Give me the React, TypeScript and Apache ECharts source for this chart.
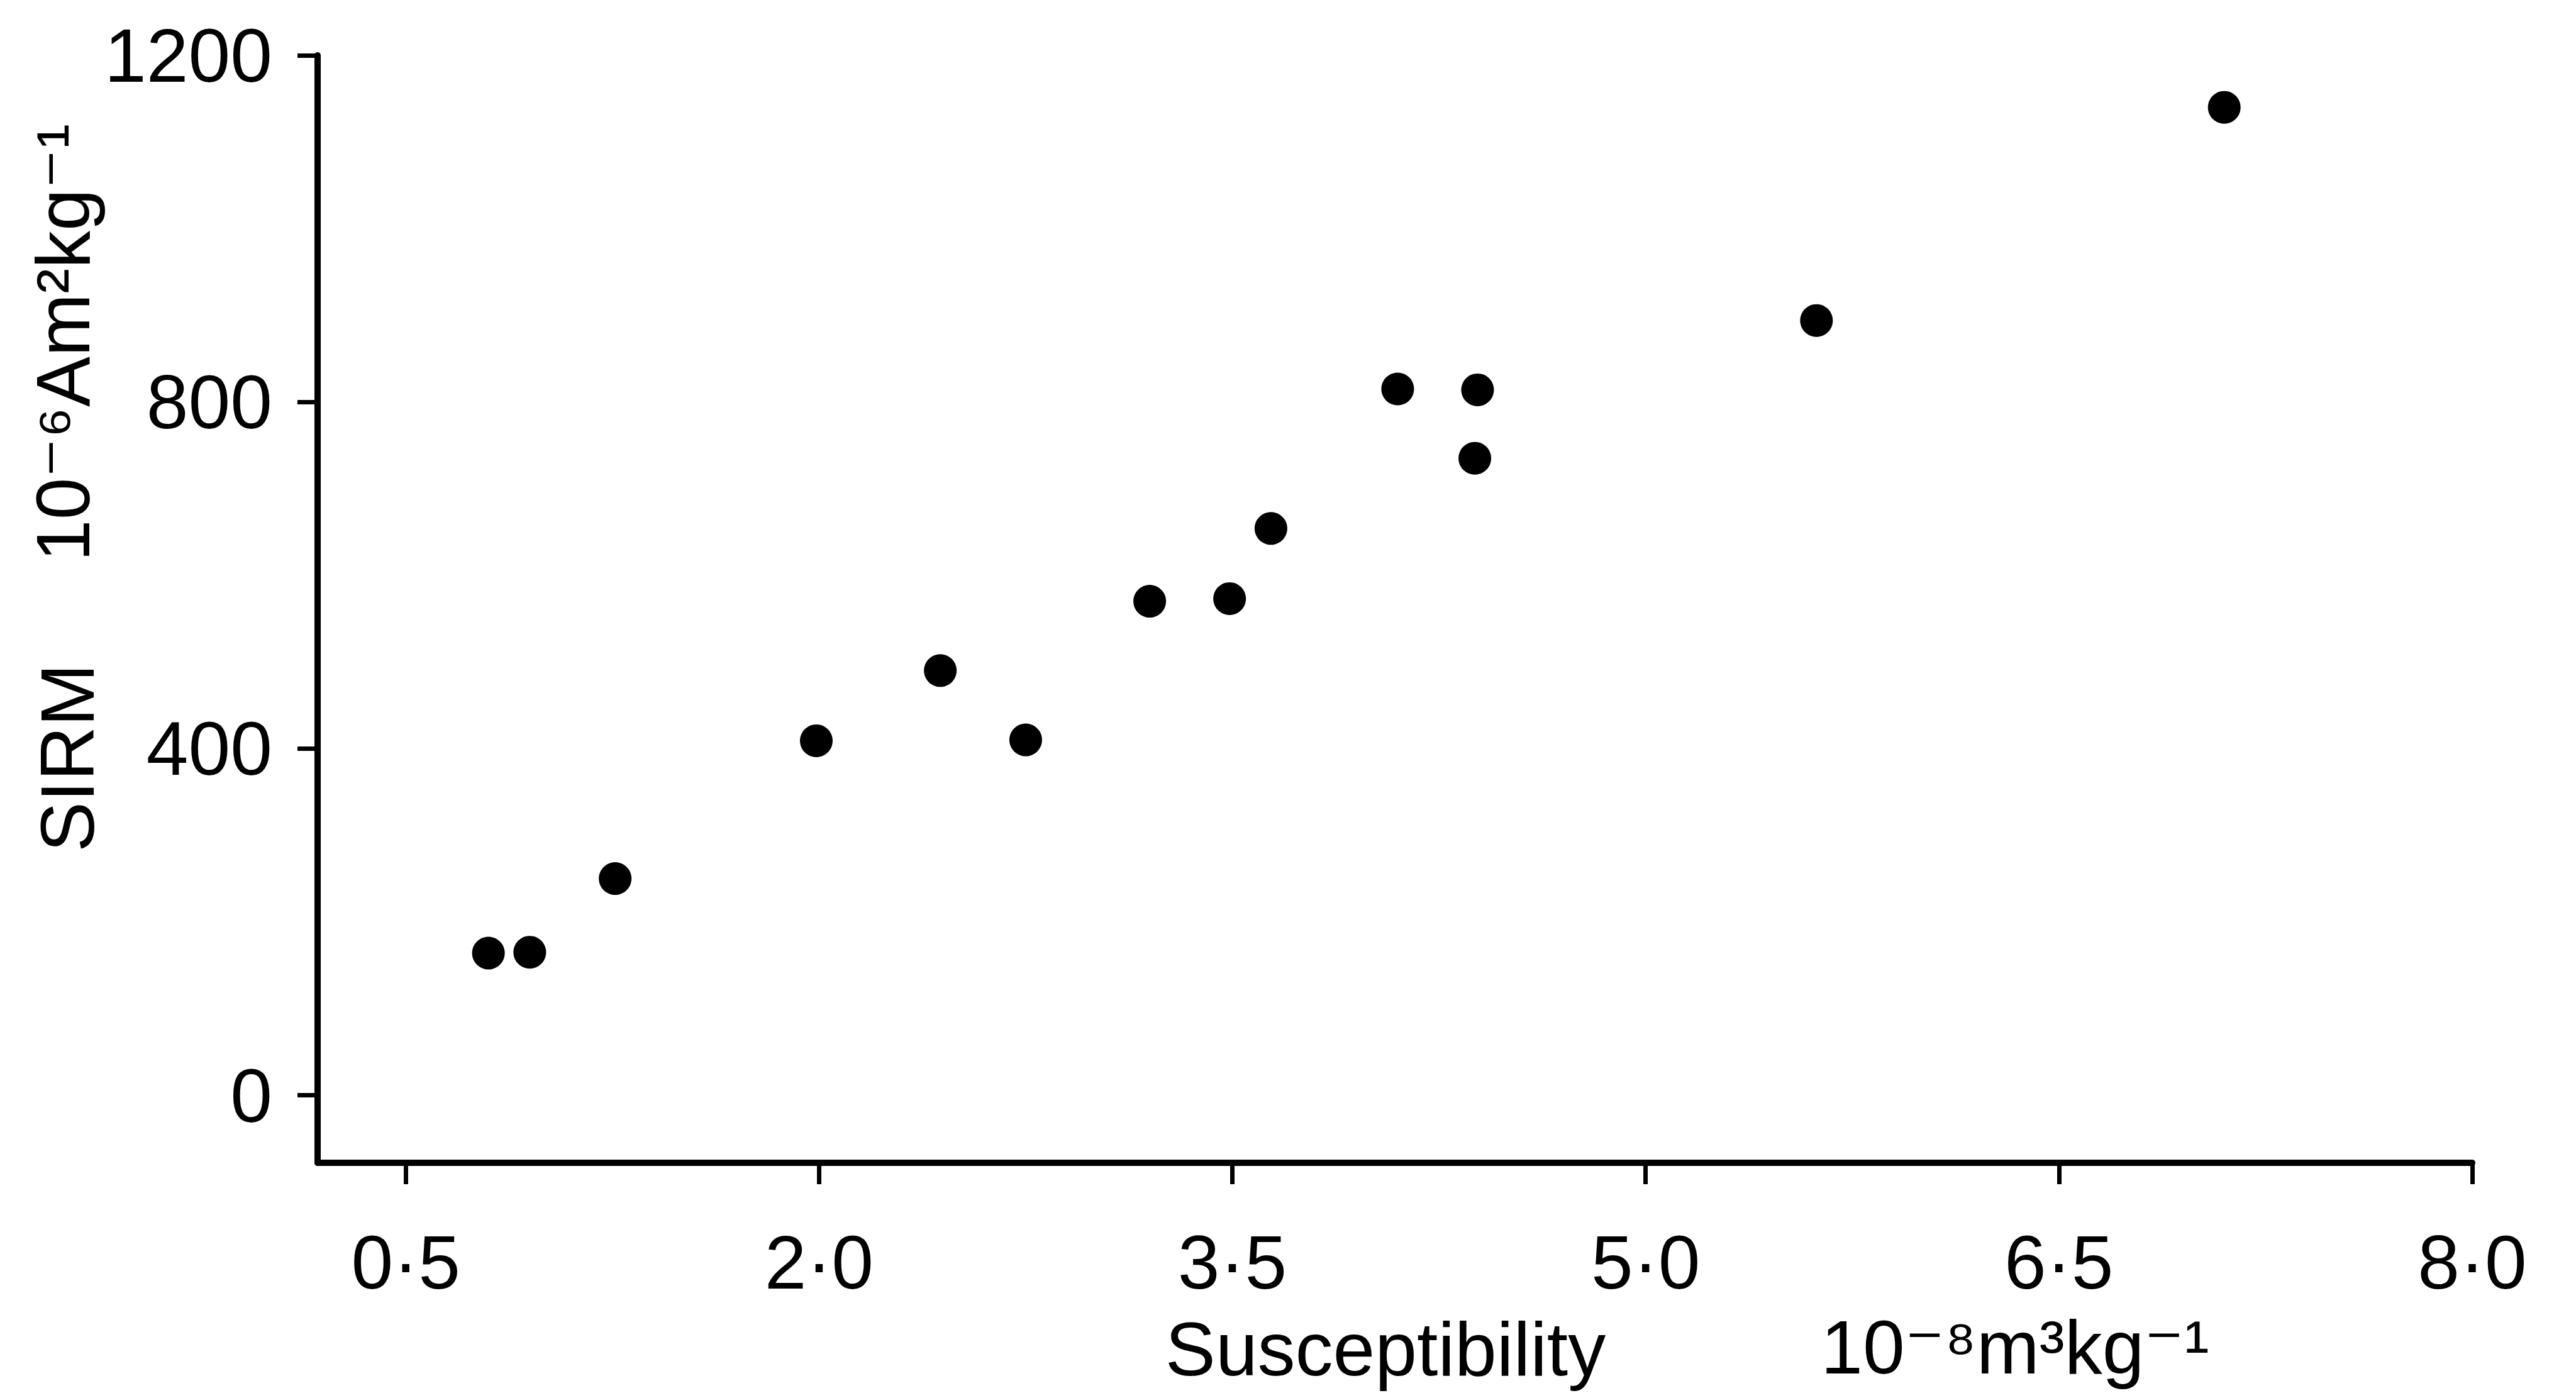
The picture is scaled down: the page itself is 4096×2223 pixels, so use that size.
import React, { useEffect, useRef } from "react";
import * as echarts from "echarts";

const susceptibility = [0.80, 0.95, 1.26, 1.99, 2.44, 2.75, 3.20, 3.49, 3.64, 4.10, 4.39, 4.38, 5.62, 7.10];
const sirm = [164, 165, 250, 409, 490, 410, 570, 573, 654, 815, 814, 735, 894, 1140];
const xTicks = [0.5, 2.0, 3.5, 5.0, 6.5, 8.0];
const yTicks = [0, 400, 800, 1200];
const xTitle = "Susceptibility";
const xUnit = "10\u207B\u2078m\u00B3kg\u207B\u00B9";
const yTitle = "SIRM";
const yUnit = "10\u207B\u2076Am\u00B2kg\u207B\u00B9";

const FONT = "'Liberation Sans', Arial, 'DejaVu Sans', sans-serif";

export default function App() {
  const ref = useRef<HTMLDivElement>(null);
  useEffect(() => {
    document.body.style.margin = "0";
    const chart = echarts.init(ref.current!, null, { renderer: "svg" });
    const points = susceptibility.map((x, i) => [x, sirm[i]]);
    chart.setOption({
      animation: false,
      backgroundColor: "#ffffff",
      grid: { left: 505, right: 165, top: 88, bottom: 374, containLabel: false },
      xAxis: {
        type: "value",
        min: 0.18,
        max: 8.0,
        splitLine: { show: false },
        axisLine: { show: true, onZero: false, lineStyle: { color: "#000", width: 10 } },
        axisTick: { show: true, customValues: xTicks, length: 34, lineStyle: { color: "#000", width: 7 } },
        axisLabel: {
          customValues: xTicks,
          formatter: (v: number) => v.toFixed(1).replace(".", "\u00B7"),
          fontSize: 120,
          fontFamily: FONT,
          color: "#000",
          margin: 98,
        },
      },
      yAxis: {
        type: "value",
        min: -78,
        max: 1200,
        splitLine: { show: false },
        axisLine: { show: true, onZero: false, lineStyle: { color: "#000", width: 10 } },
        axisTick: { show: true, customValues: yTicks, length: 32, lineStyle: { color: "#000", width: 7 } },
        axisLabel: {
          customValues: yTicks,
          formatter: (v: number) => String(v),
          fontSize: 120,
          fontFamily: FONT,
          color: "#000",
          margin: 72,
        },
      },
      series: [
        {
          type: "scatter",
          data: points,
          symbol: "circle",
          symbolSize: 52,
          itemStyle: { color: "#000", opacity: 1 },
        },
      ],
      graphic: [
        {
          type: "text",
          x: 2203,
          y: 2145,
          style: { text: xTitle, font: `120px ${FONT}`, fill: "#000", align: "center", verticalAlign: "middle" },
        },
        {
          type: "text",
          x: 3204,
          y: 2142,
          style: { text: xUnit, font: `120px ${FONT}`, fill: "#000", align: "center", verticalAlign: "middle" },
        },
        {
          type: "text",
          x: 107,
          y: 1205,
          rotation: Math.PI / 2,
          style: { text: yTitle, font: `120px ${FONT}`, fill: "#000", align: "center", verticalAlign: "middle" },
        },
        {
          type: "text",
          x: 100,
          y: 545,
          rotation: Math.PI / 2,
          style: { text: yUnit, font: `120px ${FONT}`, fill: "#000", align: "center", verticalAlign: "middle" },
        },
      ],
    });
    return () => chart.dispose();
  }, []);
  return (
    <div
      ref={ref}
      style={{ position: "absolute", left: 0, top: 0, width: 4096, height: 2223, background: "#fff" }}
    />
  );
}
